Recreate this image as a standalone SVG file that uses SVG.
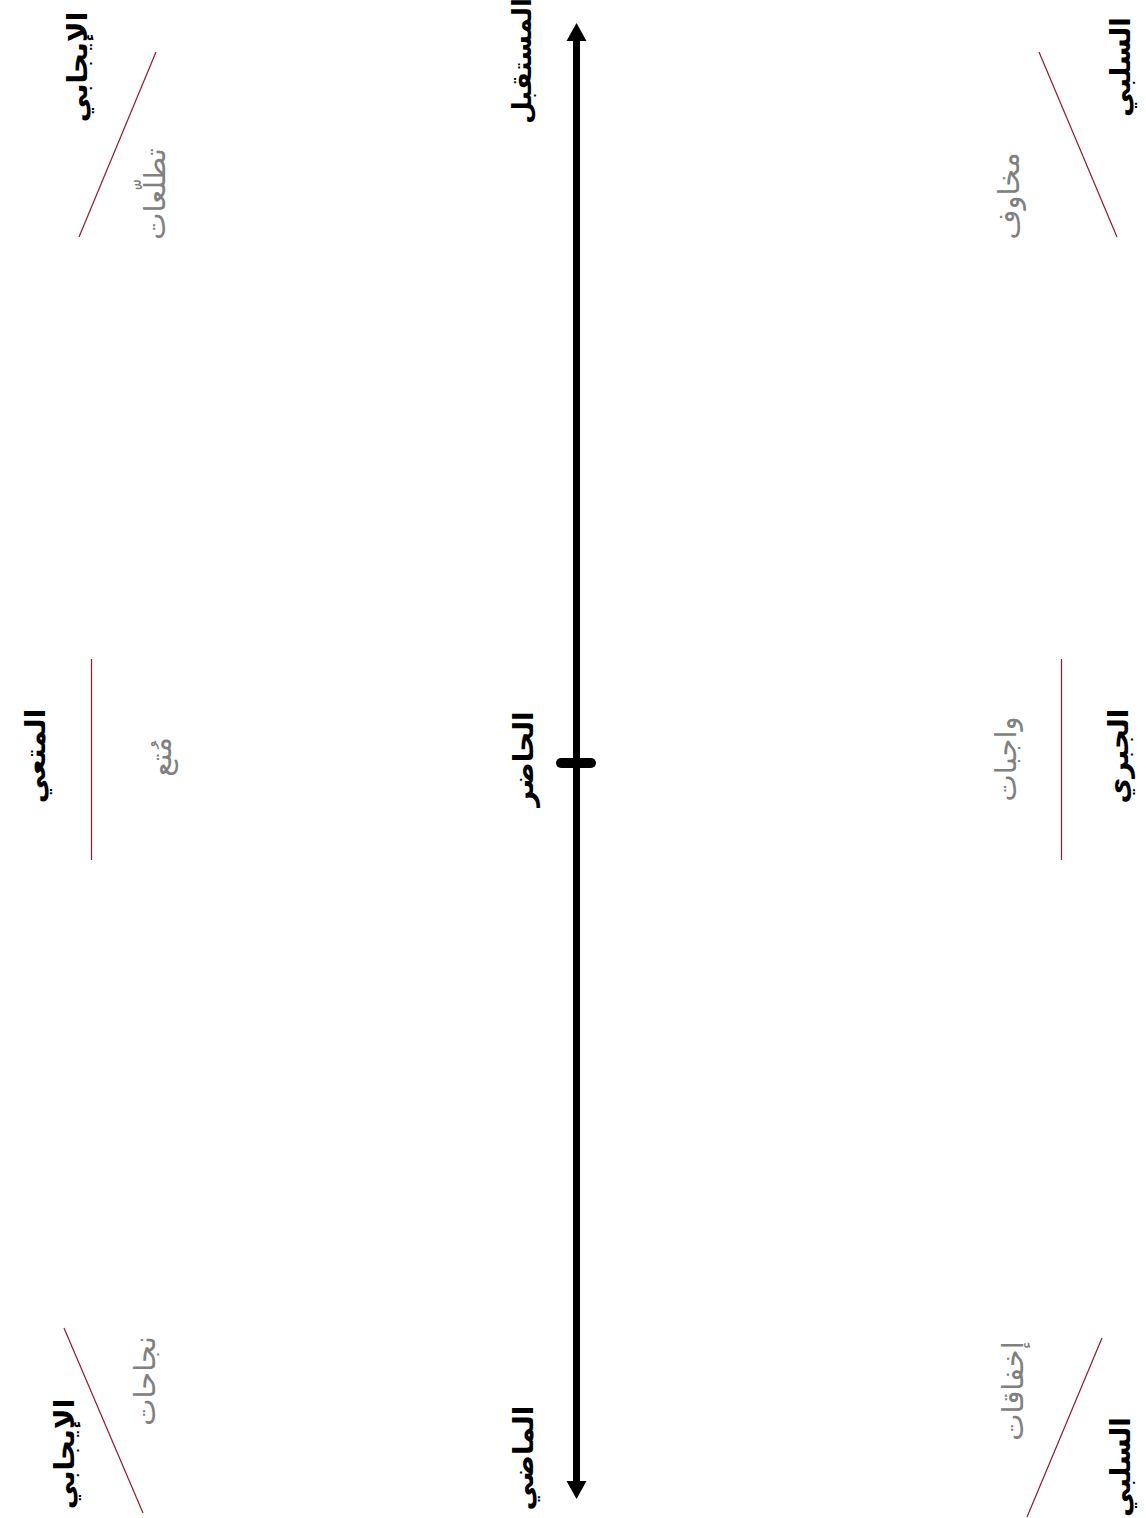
<svg xmlns="http://www.w3.org/2000/svg" width="1146" height="1518" viewBox="0 0 1146 1518">
<style>
.h{font-family:"DejaVu Sans",sans-serif;font-weight:bold;font-size:28px;fill:#000;text-anchor:middle}
.s{font-family:"DejaVu Sans",sans-serif;font-size:29px;fill:#808080;text-anchor:middle}
.d{stroke:#8e1b2e;stroke-width:1.2;fill:none}
</style>
<defs>
<marker id="ah" markerUnits="userSpaceOnUse" markerWidth="20" markerHeight="22" viewBox="0 0 18 22" refX="1" refY="11" orient="auto-start-reverse">
<path d="M0,1 L18,11 L0,21 Z" fill="#000"/>
</marker>
</defs>
<rect width="1146" height="1518" fill="#fff"/>
<g id="connectors">
<line x1="576.5" y1="40" x2="576.5" y2="1482" stroke="#000" stroke-width="7" marker-start="url(#ah)" marker-end="url(#ah)"/>
<line x1="561" y1="763" x2="591" y2="763" stroke="#000" stroke-width="10" stroke-linecap="round"/>
</g>
<g id="axis-future"><text class="h" style="font-size:26px" transform="translate(522,61) rotate(-90)" y="9">المستقبل</text></g>
<g id="axis-present"><text class="h" transform="translate(523,759) rotate(-90)" y="10">الحاضر</text></g>
<g id="axis-past"><text class="h" transform="translate(523,1458) rotate(-90)" y="10">الماضي</text></g>
<g id="future-positive">
<text class="h" transform="translate(77,67) rotate(-90)" y="10">الإيجابي</text>
<line class="d" x1="156" y1="52" x2="79" y2="237"/>
<text class="s" transform="translate(156,194) rotate(-90)" y="9">تطلّعات</text>
</g>
<g id="present-hedonic">
<text class="h" transform="translate(35,756) rotate(-90)" y="10">المتعي</text>
<line class="d" x1="91.5" y1="659" x2="91.5" y2="860"/>
<text class="s" transform="translate(162,757) rotate(-90)" y="9">مُتع</text>
</g>
<g id="past-positive">
<text class="h" transform="translate(64,1454) rotate(-90)" y="10">الإيجابي</text>
<line class="d" x1="64" y1="1328" x2="143" y2="1513"/>
<text class="s" transform="translate(146,1381) rotate(-90)" y="9">نجاحات</text>
</g>
<g id="future-negative">
<text class="h" transform="translate(1120,67) rotate(-90)" y="10">السلبي</text>
<line class="d" x1="1039" y1="52" x2="1117" y2="237"/>
<text class="s" transform="translate(1010,196) rotate(-90)" y="9">مخاوف</text>
</g>
<g id="present-fatalistic">
<text class="h" transform="translate(1118,756) rotate(-90)" y="10">الجبري</text>
<line class="d" x1="1061.5" y1="659" x2="1061.5" y2="860"/>
<text class="s" transform="translate(1007,759) rotate(-90)" y="9">واجبات</text>
</g>
<g id="past-negative">
<text class="h" transform="translate(1120,1467) rotate(-90)" y="10">السلبي</text>
<line class="d" x1="1102" y1="1338" x2="1027" y2="1517"/>
<text class="s" transform="translate(1014,1391) rotate(-90)" y="9">إخفاقات</text>
</g>
</svg>
